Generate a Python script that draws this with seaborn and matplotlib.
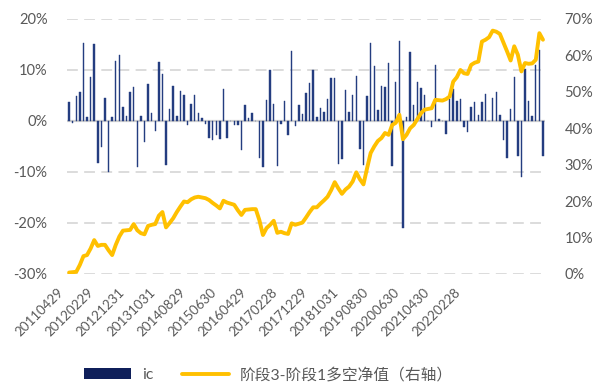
import numpy as np
import pandas as pd
import matplotlib
matplotlib.use("Agg")
import matplotlib.pyplot as plt
import matplotlib.transforms as mtransforms
import seaborn as sns
from matplotlib.patches import Patch
from matplotlib.lines import Line2D
from matplotlib.ticker import FuncFormatter

# monthly IC (%), 2011-04 .. 2022-04
ic = [3.8, -0.4, 4.9, 5.6, 15.2, 0.7, 8.6, 15.0, -8.3, -5.2,
      4.6, -10.1, 0.7, 11.8, 12.9, 2.8, 0.9, 5.6, 6.7, -9.0,
      1.0, -4.1, 7.3, 1.6, -1.9, 11.5, 9.3, -8.6, 2.3, 6.9,
      1.0, 5.9, 5.0, -0.8, 3.3, 5.0, 1.5, 0.5, -0.6, -3.3,
      -3.7, -2.7, -3.6, 6.3, -3.4, 0.0, -0.7, -0.7, -5.6, 3.1,
      0.5, 1.5, 0.0, -7.3, -9.0, 4.1, 9.9, 3.3, -8.8, -0.6,
      3.9, -2.7, 13.7, -1.0, 3.1, 1.3, 5.4, 7.5, 9.9, 0.8,
      2.6, 1.7, 4.3, 8.5, 8.5, -8.4, -7.5, 6.1, 1.8, 5.1,
      8.8, -5.4, -8.6, 4.8, 15.2, 10.8, 2.2, 6.9, 6.6, 11.4,
      -8.8, 7.6, 15.6, -20.9, 0.8, 13.5, 3.1, 7.6, 6.4, 5.0,
      0.0, -1.1, 11.0, 0.3, 0.0, -2.5, 4.4, 6.2, 3.9, 4.4,
      -1.1, -2.1, 2.8, 3.8, 1.2, 3.8, 5.3, 0.0, 4.6, 5.6,
      1.2, -3.7, -7.3, 2.3, 8.7, -6.9, -10.9, 10.1, 4.0, 1.0,
      11.0, 13.9, -6.9]

# long-short net value, stage 3 - stage 1 (%), right axis
nav = [0.4, 0.5, 0.6, 2.5, 4.9, 5.2, 7.0, 9.3, 7.7, 8.0,
       8.0, 6.5, 5.2, 8.0, 10.3, 11.9, 12.0, 12.1, 13.7, 12.0,
       11.2, 10.9, 13.2, 13.5, 13.7, 16.0, 17.0, 12.8, 14.0, 15.3,
       17.0, 18.5, 19.9, 19.7, 20.5, 21.0, 21.2, 21.0, 20.8, 20.3,
       19.5, 18.8, 18.0, 20.1, 19.6, 19.3, 19.0, 17.5, 16.2, 17.6,
       17.7, 17.8, 17.8, 14.8, 10.7, 12.6, 13.5, 14.6, 11.3, 11.6,
       11.2, 11.0, 13.9, 13.5, 13.8, 14.1, 15.5, 17.0, 18.3, 18.3,
       19.3, 20.2, 21.2, 23.0, 25.2, 23.5, 22.0, 23.2, 24.0, 25.4,
       27.9, 26.0, 24.6, 29.0, 33.2, 35.0, 36.5, 37.3, 38.7, 38.2,
       40.9, 41.5, 43.7, 37.0, 38.2, 40.0, 40.9, 42.5, 44.1, 45.1,
       45.3, 45.5, 47.8, 47.7, 47.6, 48.0, 48.7, 52.8, 54.0, 56.0,
       55.1, 54.9, 57.4, 58.0, 58.3, 63.8, 64.3, 65.0, 66.8, 66.5,
       65.9, 63.5, 61.1, 58.6, 62.5, 60.2, 55.6, 57.9, 57.7, 57.8,
       58.8, 66.1, 64.3]

tick_labels = ["20110429", "20120229", "20121231", "20131031", "20140829",
               "20150630", "20160429", "20170228", "20171229", "20181031",
               "20190830", "20200630", "20210430", "20220228"]

bar_name = "ic"
line_name = "阶段3-阶段1多空净值（右轴）"

navy = "#243d80"
gold = "#FFC000"
grey_txt = "#595959"

sns.set_style("white")
plt.rcParams["font.family"] = ["Lato", "Noto Sans CJK SC", "DejaVu Sans"]

df = pd.DataFrame({"idx": np.arange(len(ic)), "ic": ic, "nav": nav})

fig = plt.figure(figsize=(6.03, 3.87), dpi=100)
ax = fig.add_axes([0.111, 0.292, 0.793, 0.659])

sns.barplot(data=df, x="idx", y="ic", color=navy, saturation=1,
            width=0.4, errorbar=None, ax=ax, zorder=3,
            edgecolor=navy, linewidth=0.3)
ax.set_ylim(-30, 20)
ax.set_yticks(np.arange(-30, 21, 10))
ax.yaxis.set_major_formatter(FuncFormatter(lambda v, p: f"{v:.0f}%"))
ax.yaxis.grid(True, color="#D9D9D9", linestyle=(0, (6, 3.5)), linewidth=1.3, zorder=0)
ax.axhline(0, color="#D0D0D0", linewidth=1.6, zorder=2)
ax.set_axisbelow(True)

ax2 = ax.twinx()
sns.lineplot(data=df, x="idx", y="nav", color=gold, linewidth=2.8, ax=ax2)
ax2.set_ylim(0, 70)
ax2.set_yticks(np.arange(0, 71, 10))
ax2.yaxis.set_major_formatter(FuncFormatter(lambda v, p: f"{v:.0f}%"))

ax.set_xlim(-0.6, len(ic) - 0.4)
tick_pos = np.arange(len(tick_labels)) * 8.5
ax.set_xticks(tick_pos)
ax.set_xticklabels(tick_labels, rotation=45, ha="right", rotation_mode="anchor")

for a in (ax, ax2):
    sns.despine(ax=a, left=True, right=True, top=True, bottom=True)
    a.set_xlabel("")
    a.set_ylabel("")
    a.tick_params(length=0, labelsize=10.5, colors=grey_txt)
ax.tick_params(axis="y", pad=14)
ax2.tick_params(axis="y", pad=14)
ax.tick_params(axis="x", pad=9, labelsize=9.6)

# date labels sit a bit left of their ticks, as in the original
shift = mtransforms.ScaledTranslation(-0.12, 0, fig.dpi_scale_trans)
for lbl in ax.get_xticklabels():
    lbl.set_transform(lbl.get_transform() + shift)

handles = [Patch(facecolor="#0f1f5a", edgecolor="none"),
           Line2D([0], [0], color=gold, linewidth=2.8)]
fig.legend(handles, [bar_name, line_name], loc="center", bbox_to_anchor=(0.445, 0.032),
           ncol=2, frameon=False, fontsize=11.3, handlelength=3.0,
           handletextpad=0.7, columnspacing=1.8, labelcolor=grey_txt)

fig.savefig("out.png", dpi=100)
